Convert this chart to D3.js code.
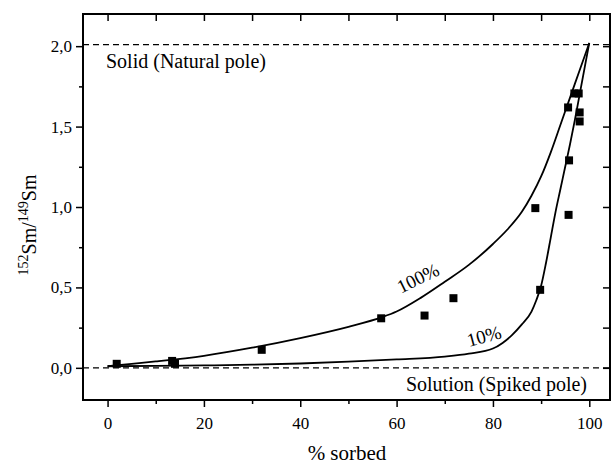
<!DOCTYPE html>
<html>
<head>
<meta charset="utf-8">
<script src="https://cdn.jsdelivr.net/npm/d3@7"></script>
<style>
  body { margin: 0; background: #fff; }
  svg text { font-family: "Liberation Serif", "DejaVu Serif", serif; fill: #000; }
</style>
</head>
<body>
<svg width="613" height="466"></svg>
<script>
// measured points
const pctSorbed = [1.9, 13.4, 14.0, 32, 56.8, 65.8, 71.8, 88.8, 89.8, 95.7, 95.8, 95.6, 96.9, 97.8, 98.0, 98.0];
const smRatio = [0.025, 0.043, 0.025, 0.112, 0.308, 0.325, 0.433, 0.993, 0.485, 0.951, 1.29, 1.619, 1.706, 1.706, 1.588, 1.532];

// 100% curve
const curve100X = [0, 5, 10, 20, 30, 40, 50, 57, 60, 65, 70, 75, 80, 83, 86, 88, 90, 92, 94, 96, 98, 100];
const curve100Y = [0.01, 0.025, 0.04, 0.075, 0.125, 0.185, 0.255, 0.315, 0.35, 0.435, 0.535, 0.64, 0.77, 0.86, 0.97, 1.07, 1.19, 1.34, 1.51, 1.68, 1.85, 2.02];

// 10% curve
const curve10X = [0, 10, 20, 30, 40, 50, 60, 70, 75, 80, 82, 84, 86, 88, 89, 90, 91, 92, 93, 94, 95, 96, 97, 98, 99, 100];
const curve10Y = [0.01, 0.012, 0.015, 0.02, 0.027, 0.038, 0.052, 0.07, 0.088, 0.12, 0.155, 0.205, 0.27, 0.35, 0.42, 0.51, 0.65, 0.81, 0.97, 1.11, 1.25, 1.39, 1.54, 1.70, 1.86, 2.02];

const xTicks = [0, 20, 40, 60, 80, 100];
const yTicks = [0, 0.5, 1.0, 1.5, 2.0];
const poleLevels = [0, 2.01];

const svg = d3.select("svg");
const mLeft = 83, mRight = 610, mTop = 14, mBottom = 400;

const x = d3.scaleLinear().domain([-5.1, 104.3]).range([mLeft, mRight]);
const y = d3.scaleLinear().domain([-0.2, 2.2]).range([mBottom, mTop]);

const fmt = d => d3.format(".1f")(d).replace(".", ",");

// bottom ticks (major + minor) and labels
svg.append("g")
    .attr("transform", `translate(0,${mBottom})`)
    .call(d3.axisBottom(x).tickValues(d3.range(0, 101, 10)).tickSize(0).tickFormat(""))
    .call(g => g.select(".domain").remove())
    .call(g => g.selectAll(".tick line").attr("y2", d => d % 20 === 0 ? 7 : 4).attr("stroke-width", 1.5));

svg.append("g")
    .attr("transform", `translate(0,${mBottom})`)
    .call(d3.axisBottom(x).tickValues(xTicks).tickSize(0).tickPadding(17))
    .call(g => g.select(".domain").remove())
    .call(g => g.selectAll("text").attr("font-size", 17));

// left ticks and labels
svg.append("g")
    .attr("transform", `translate(${mLeft},0)`)
    .call(d3.axisLeft(y).tickValues(d3.range(0, 2.01, 0.25)).tickSize(0).tickFormat(""))
    .call(g => g.select(".domain").remove())
    .call(g => g.selectAll(".tick line").attr("x2", (d, i) => i % 2 === 0 ? -7 : -4).attr("stroke-width", 1.5));

svg.append("g")
    .attr("transform", `translate(${mLeft},0)`)
    .call(d3.axisLeft(y).tickValues(yTicks).tickSize(0).tickPadding(11).tickFormat(fmt))
    .call(g => g.select(".domain").remove())
    .call(g => g.selectAll("text").attr("font-size", 17));

// top and right inward ticks
svg.append("g")
    .attr("transform", `translate(0,${mTop})`)
    .call(d3.axisBottom(x).tickValues(d3.range(0, 101, 10)).tickSize(7).tickFormat(""))
    .call(g => g.select(".domain").remove())
    .call(g => g.selectAll(".tick line").attr("stroke-width", 1.5));

svg.append("g")
    .attr("transform", `translate(${mRight},0)`)
    .call(d3.axisLeft(y).tickValues(d3.range(0, 2.01, 0.25)).tickSize(7).tickFormat(""))
    .call(g => g.select(".domain").remove())
    .call(g => g.selectAll(".tick line").attr("stroke-width", 1.5));

// frame
svg.append("rect")
    .attr("x", mLeft).attr("y", mTop)
    .attr("width", mRight - mLeft).attr("height", mBottom - mTop)
    .attr("fill", "none").attr("stroke", "#000").attr("stroke-width", 2);

// pole lines
svg.selectAll(".pole")
    .data(poleLevels)
    .enter().append("line")
    .attr("x1", mLeft).attr("x2", mRight)
    .attr("y1", d => y(d)).attr("y2", d => y(d))
    .attr("stroke", "#000").attr("stroke-width", 1.3)
    .attr("stroke-dasharray", "6,4");

// curves
const line = d3.line().x(d => x(d[0])).y(d => y(d[1])).curve(d3.curveMonotoneX);
[[curve100X, curve100Y], [curve10X, curve10Y]].forEach(([xs, ys]) => {
    svg.append("path")
        .datum(xs.map((v, i) => [v, ys[i]]))
        .attr("d", line)
        .attr("fill", "none").attr("stroke", "#000").attr("stroke-width", 1.8);
});

// points
const sq = 8;
svg.selectAll(".pt")
    .data(pctSorbed.map((v, i) => [v, smRatio[i]]))
    .enter().append("rect")
    .attr("x", d => x(d[0]) - sq / 2)
    .attr("y", d => y(d[1]) - sq / 2)
    .attr("width", sq).attr("height", sq)
    .attr("fill", "#000");

// annotations
svg.append("text").attr("x", 106).attr("y", 68).attr("font-size", 20).text("Solid (Natural pole)");
svg.append("text").attr("x", 587).attr("y", 391).attr("font-size", 20).attr("text-anchor", "end").text("Solution (Spiked pole)");
svg.append("text").attr("transform", "translate(418,278) rotate(-26)").attr("text-anchor", "middle")
    .attr("font-size", 19).attr("dy", "0.35em").text("100%");
svg.append("text").attr("transform", "translate(484,336) rotate(-15)").attr("text-anchor", "middle")
    .attr("font-size", 19).attr("dy", "0.35em").text("10%");

// axis titles
svg.append("text").attr("x", 347).attr("y", 460).attr("font-size", 21).attr("text-anchor", "middle").text("% sorbed");

const yt = svg.append("text").attr("transform", "translate(36,225) rotate(-90)")
    .attr("text-anchor", "middle").attr("font-size", 20);
yt.append("tspan").attr("font-size", 14).attr("dy", -8).text("152");
yt.append("tspan").attr("dy", 8).text("Sm/");
yt.append("tspan").attr("font-size", 14).attr("dy", -8).text("149");
yt.append("tspan").attr("dy", 8).text("Sm");
</script>
</body>
</html>
